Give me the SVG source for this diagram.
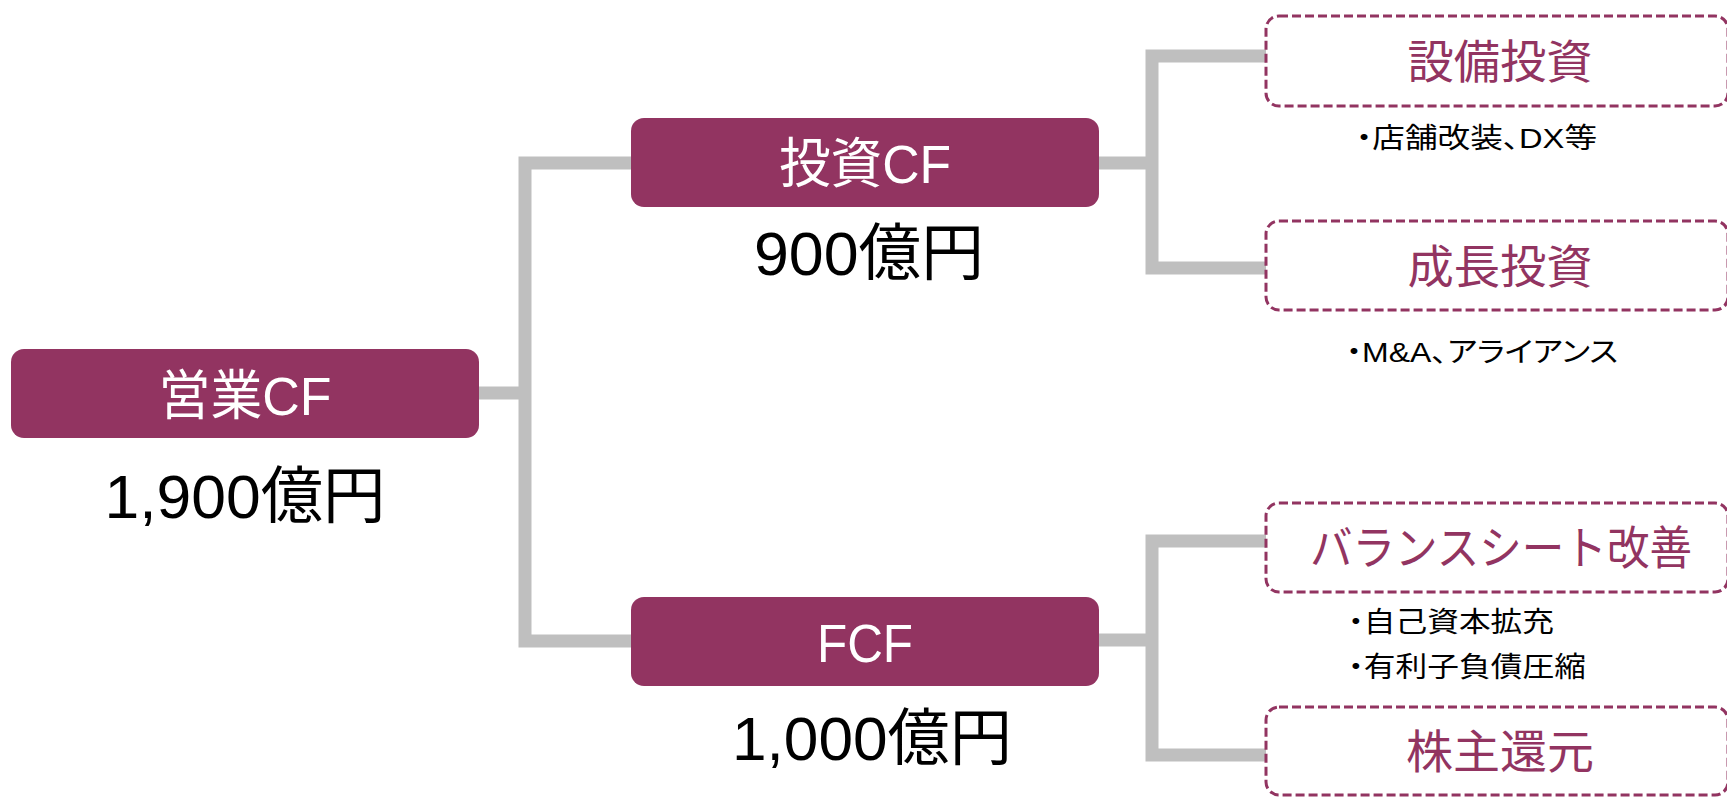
<svg xmlns="http://www.w3.org/2000/svg" width="1727" height="798" viewBox="0 0 1727 798">
<style>
.solid{fill:#923461;}
.dash{fill:none;stroke:#923461;stroke-width:3;stroke-dasharray:9 4;}
.wt{fill:#ffffff;font-family:"Liberation Sans","Noto Sans CJK JP",sans-serif;font-size:54px;text-anchor:middle;}
.bt{fill:#000000;font-family:"Liberation Sans","Noto Sans CJK JP",sans-serif;font-size:62px;text-anchor:middle;}
.pt{fill:#923461;font-family:"Noto Sans CJK JP",sans-serif;font-size:46px;text-anchor:middle;}
.st{fill:#000000;font-family:"Liberation Sans","Noto Sans CJK JP",sans-serif;font-size:28px;font-feature-settings:"palt";}
.conn{fill:none;stroke:#BFBFBF;stroke-width:13;stroke-linejoin:miter;stroke-linecap:butt;}
</style>
<rect width="1727" height="798" fill="#ffffff"/>
<g id="connectors">
<path class="conn" d="M479,393 H525"/>
<path class="conn" d="M631,163 H525 V641 H631"/>
<path class="conn" d="M1099,163 H1152"/>
<path class="conn" d="M1266,56 H1152 V268 H1266"/>
<path class="conn" d="M1099,640 H1152"/>
<path class="conn" d="M1266,541 H1152 V755 H1266"/>
</g>
<g id="node-eigyo">
<rect class="solid" x="11" y="349" width="468" height="89" rx="13"/>
<text class="wt" x="245" y="415" textLength="173" lengthAdjust="spacingAndGlyphs">営業CF</text>
<text class="bt" x="245" y="518" textLength="281" lengthAdjust="spacingAndGlyphs">1,900億円</text>
</g>
<g id="node-toshi">
<rect class="solid" x="631" y="118" width="468" height="89" rx="13"/>
<text class="wt" x="865" y="183" textLength="172" lengthAdjust="spacingAndGlyphs">投資CF</text>
<text class="bt" x="869" y="275" textLength="230" lengthAdjust="spacingAndGlyphs">900億円</text>
</g>
<g id="node-fcf">
<rect class="solid" x="631" y="597" width="468" height="89" rx="13"/>
<text class="wt" x="865" y="662" textLength="96" lengthAdjust="spacingAndGlyphs">FCF</text>
<text class="bt" x="872" y="760" textLength="280" lengthAdjust="spacingAndGlyphs">1,000億円</text>
</g>
<g id="node-setsubi">
<rect class="dash" x="1266" y="16" width="462" height="90" rx="13"/>
<text class="pt" x="1500" y="78" textLength="185" lengthAdjust="spacingAndGlyphs">設備投資</text>
<text class="st" x="1356" y="148" textLength="241" lengthAdjust="spacingAndGlyphs">・店舗改装、DX等</text>
</g>
<g id="node-seicho">
<rect class="dash" x="1266" y="221" width="462" height="89" rx="13"/>
<text class="pt" x="1500" y="283" textLength="185" lengthAdjust="spacingAndGlyphs">成長投資</text>
<text class="st" x="1346" y="362" textLength="272" lengthAdjust="spacingAndGlyphs">・M&amp;A、アライアンス</text>
</g>
<g id="node-balance">
<rect class="dash" x="1266" y="503" width="462" height="89" rx="13"/>
<text class="pt" x="1501" y="564" font-size="44" textLength="382" lengthAdjust="spacingAndGlyphs">バランスシート改善</text>
<text class="st" x="1348" y="632" textLength="206" lengthAdjust="spacingAndGlyphs">・自己資本拡充</text>
<text class="st" x="1348" y="677" textLength="238" lengthAdjust="spacingAndGlyphs">・有利子負債圧縮</text>
</g>
<g id="node-kabunushi">
<rect class="dash" x="1266" y="707" width="462" height="88" rx="13"/>
<text class="pt" x="1500" y="768" textLength="188" lengthAdjust="spacingAndGlyphs">株主還元</text>
</g>
</svg>
